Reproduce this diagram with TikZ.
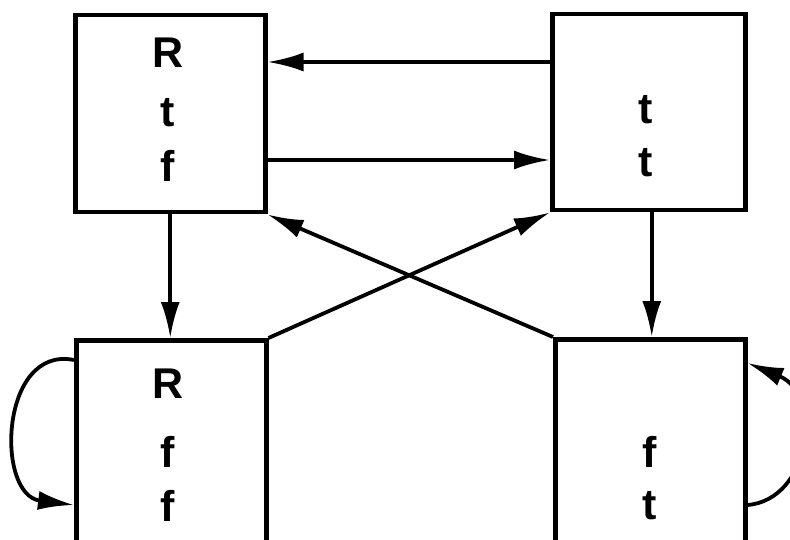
\documentclass[tikz,border=0pt]{standalone}
\usepackage{fontspec}
\setmainfont{Liberation Sans}
\usetikzlibrary{arrows.meta}
\begin{document}
\begin{tikzpicture}[x=1pt,y=-1pt,
  box/.style={draw,line width=4.5pt,minimum width=190pt,inner sep=0pt,anchor=north west},
  lbl/.style={font=\fontsize{43}{43}\selectfont\bfseries,inner sep=0pt},
  arr/.style={line width=3.8pt,-{Latex[length=36pt,width=19pt]}}]
\useasboundingbox (0,0) rectangle (790,540);
\clip (0,0) rectangle (790,540);
\node[box,minimum height=197pt] (tl) at (73,13) {};
\node[box,minimum height=196pt,minimum width=193pt] (tr) at (550,12) {};
\node[box,minimum height=230pt] (bl) at (74,338) {};
\node[box,minimum height=230pt] (br) at (553,337) {};
% labels
\node[lbl] (tl1) at (168,53) {R};
\node[lbl] (tl2) at (168,113) {t};
\node[lbl] (tl3) at (168,166) {f};
\node[lbl] (tr1) at (646,110) {t};
\node[lbl] (tr2) at (646,163) {t};
\node[lbl] (bl1) at (168,384) {R};
\node[lbl] (bl2) at (168,452) {f};
\node[lbl] (bl3) at (168,506) {f};
\node[lbl] (br1) at (650,452) {f};
\node[lbl] (br2) at (650,506) {t};
% connectors
\draw[arr] ([yshift=-50pt]tr.north west) -- ([yshift=-50pt]tr.north west -| tl.east);
\draw[arr] ([yshift=-147pt]tl.north east) -- ([yshift=-147pt]tl.north east -| tr.west);
\draw[arr] (tl.south) -- (tl.south |- bl.north);
\draw[arr] ([xshift=3pt]tr.south) -- ([xshift=3pt]tr.south |- br.north);
\draw[arr] (bl.north east) -- (tr.south west);
\draw[arr] (br.north west) -- (tl.south east);
\draw[arr] ([yshift=-22pt]bl.north west) .. controls (0,345) and (-5,495) .. ([yshift=-167pt]bl.north west);
\draw[arr] ([yshift=-168pt]br.north east) .. controls (810,500) and (825,395) .. ([yshift=-26pt]br.north east);
\end{tikzpicture}
\end{document}
